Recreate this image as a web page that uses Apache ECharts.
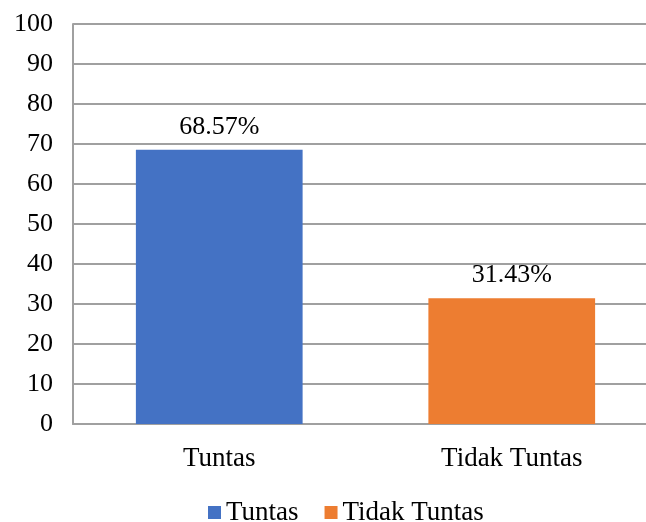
<!DOCTYPE html>
<html>
<head>
<meta charset="utf-8">
<script src="https://cdn.jsdelivr.net/npm/echarts@6/dist/echarts.min.js"></script>
<style>
  html, body { margin: 0; padding: 0; background: #fff; }
  #main { width: 646px; height: 522px; }
</style>
</head>
<body>
<div id="main"></div>
<script>
var categories = ['Tuntas', 'Tidak Tuntas'];
var tuntasValues = [68.57, null];
var tidakTuntasValues = [null, 31.43];
var yTicks = [0, 10, 20, 30, 40, 50, 60, 70, 80, 90, 100];

var font = '"Liberation Serif", "Times New Roman", serif';
var myChart = echarts.init(document.getElementById('main'));

function pctLabel(p) {
    return p.value.toFixed(2) + '%';
}

var option = {
    animation: false,
    textStyle: { fontFamily: font },
    grid: { left: 73, right: -12, top: 24, bottom: 98, outerBoundsMode: 'none' },
    legend: {
        top: 494,
        left: 203,
        itemWidth: 13,
        itemHeight: 13,
        itemGap: 26,
        icon: 'rect',
        textStyle: { fontFamily: font, fontSize: 27, color: '#000' },
        data: ['Tuntas', 'Tidak Tuntas']
    },
    xAxis: {
        type: 'category',
        data: categories,
        axisLine: { lineStyle: { color: '#a0a0a0', width: 2 } },
        axisTick: { show: false },
        axisLabel: { fontFamily: font, fontSize: 27, color: '#000', margin: 21 }
    },
    yAxis: {
        type: 'value',
        min: yTicks[0],
        max: yTicks[yTicks.length - 1],
        interval: 10,
        axisLine: { show: true, lineStyle: { color: '#a0a0a0', width: 2 } },
        axisTick: { show: false },
        axisLabel: { fontFamily: font, fontSize: 26, color: '#000', margin: 20 },
        splitLine: { lineStyle: { color: '#a0a0a0', width: 2 } }
    },
    series: [
        {
            name: 'Tuntas',
            type: 'bar',
            stack: 'all',
            barWidth: '57%',
            data: tuntasValues,
            itemStyle: { color: '#4472C4' },
            label: {
                show: true,
                position: 'top',
                distance: 10,
                formatter: pctLabel,
                fontFamily: font,
                fontSize: 26,
                color: '#000'
            }
        },
        {
            name: 'Tidak Tuntas',
            type: 'bar',
            stack: 'all',
            barWidth: '57%',
            data: tidakTuntasValues,
            itemStyle: { color: '#ED7D31' },
            label: {
                show: true,
                position: 'top',
                distance: 10,
                formatter: pctLabel,
                fontFamily: font,
                fontSize: 26,
                color: '#000'
            }
        }
    ]
};
myChart.setOption(option);
</script>
</body>
</html>
